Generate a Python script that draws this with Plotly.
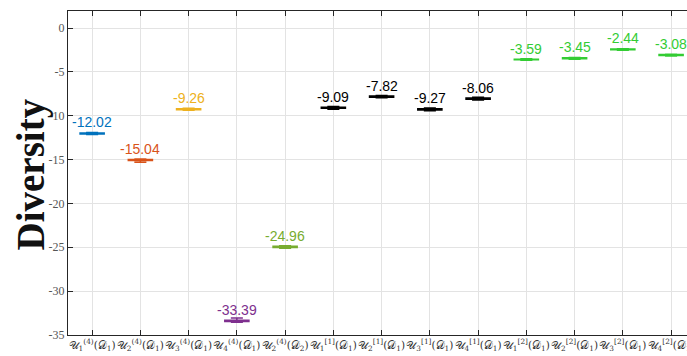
import plotly.graph_objects as go

# Diversity scores per model/dataset combination
labels = [
    "𝒰<sub>1</sub><sup>(4)</sup>(𝒟<sub>1</sub>)",
    "𝒰<sub>2</sub><sup>(4)</sup>(𝒟<sub>1</sub>)",
    "𝒰<sub>3</sub><sup>(4)</sup>(𝒟<sub>1</sub>)",
    "𝒰<sub>4</sub><sup>(4)</sup>(𝒟<sub>1</sub>)",
    "𝒰<sub>2</sub><sup>(4)</sup>(𝒟<sub>2</sub>)",
    "𝒰<sub>1</sub><sup>[1]</sup>(𝒟<sub>1</sub>)",
    "𝒰<sub>2</sub><sup>[1]</sup>(𝒟<sub>1</sub>)",
    "𝒰<sub>3</sub><sup>[1]</sup>(𝒟<sub>1</sub>)",
    "𝒰<sub>4</sub><sup>[1]</sup>(𝒟<sub>1</sub>)",
    "𝒰<sub>1</sub><sup>[2]</sup>(𝒟<sub>1</sub>)",
    "𝒰<sub>2</sub><sup>[2]</sup>(𝒟<sub>1</sub>)",
    "𝒰<sub>3</sub><sup>[2]</sup>(𝒟<sub>1</sub>)",
    "𝒰<sub>4</sub><sup>[2]</sup>(𝒟<sub>1</sub>)",
]
medians = [-12.02, -15.04, -9.26, -33.39, -24.96, -9.09, -7.82, -9.27, -8.06,
           -3.59, -3.45, -2.44, -3.08]
q1 = [-12.08, -15.10, -9.32, -33.47, -25.03, -9.16, -7.88, -9.34, -8.13,
      -3.63, -3.50, -2.49, -3.13]
q3 = [-11.96, -14.98, -9.20, -33.32, -24.89, -9.02, -7.75, -9.20, -7.99,
      -3.55, -3.40, -2.39, -3.03]
lower = [-12.14, -15.30, -9.38, -33.55, -25.10, -9.25, -7.95, -9.42, -8.22,
         -3.67, -3.55, -2.53, -3.18]
upper = [-11.90, -14.92, -9.14, -33.05, -24.82, -8.94, -7.68, -9.12, -7.90,
         -3.51, -3.35, -2.35, -2.98]
colors = ["#0072BD", "#D95319", "#EDB120", "#7E2F8E", "#77AC30",
          "#000000", "#000000", "#000000", "#000000",
          "#33CC33", "#33CC33", "#33CC33", "#33CC33"]
y_ticks = [0, -5, -10, -15, -20, -25, -30, -35]

positions = list(range(len(labels)))

fig = go.Figure()

for i, c in enumerate(colors):
    fig.add_trace(go.Box(
        x=[positions[i]], q1=[q1[i]], median=[medians[i]], q3=[q3[i]],
        lowerfence=[lower[i]], upperfence=[upper[i]],
        width=0.5, whiskerwidth=0.5,
        line=dict(color=c, width=1.5), fillcolor=c,
        boxpoints=False, showlegend=False, hoverinfo="skip",
    ))

# median value labels just above each box
for x, v, c in zip(positions, medians, colors):
    fig.add_annotation(
        x=x, y=v, xref="x", yref="y", text=f"{v:.2f}",
        yanchor="bottom", xanchor="center", yshift=1, showarrow=False,
        font=dict(family="Liberation Sans, Arial", size=14, color=c),
    )

# top frame line with inside ticks (right side is left open)
fig.add_trace(go.Scatter(x=[None], y=[None], xaxis="x2", showlegend=False,
                         hoverinfo="skip"))

fig.add_annotation(
    text="<b>Diversity</b>", textangle=-90,
    xref="paper", yref="paper", x=-0.06, y=0.495,
    xanchor="center", yanchor="middle", showarrow=False,
    font=dict(family="Liberation Serif, Times New Roman", size=39, color="#111"),
)

grid = dict(showgrid=True, gridcolor="#e3e3e3", gridwidth=1, zeroline=False)
frame = dict(showline=True, linecolor="#262626", linewidth=1,
             ticks="inside", ticklen=5, tickcolor="#262626")

fig.update_layout(
    width=687, height=356,
    margin=dict(l=68, r=0, t=11, b=21),
    paper_bgcolor="white", plot_bgcolor="white",
    boxgap=0,
    xaxis=dict(
        range=[-0.5, 12.33], tickmode="array", tickvals=positions, ticktext=labels,
        tickangle=0, automargin=False,
        tickfont=dict(family="DejaVu Serif, Liberation Serif", size=10.5, color="#333"),
        ticklabeloverflow="allow", **grid, **frame,
    ),
    xaxis2=dict(
        overlaying="x", side="top", matches="x", range=[-0.5, 12.33],
        tickmode="array", tickvals=positions, showticklabels=False,
        showgrid=False, zeroline=False, automargin=False, **frame,
    ),
    yaxis=dict(
        range=[-35, 1.94], tickmode="array", tickvals=y_ticks,
        ticktext=[str(v) for v in y_ticks], automargin=False,
        tickfont=dict(family="Liberation Serif, Times New Roman", size=12, color="#555"),
        **grid, **frame,
    ),
)

fig.write_html("out.html")
